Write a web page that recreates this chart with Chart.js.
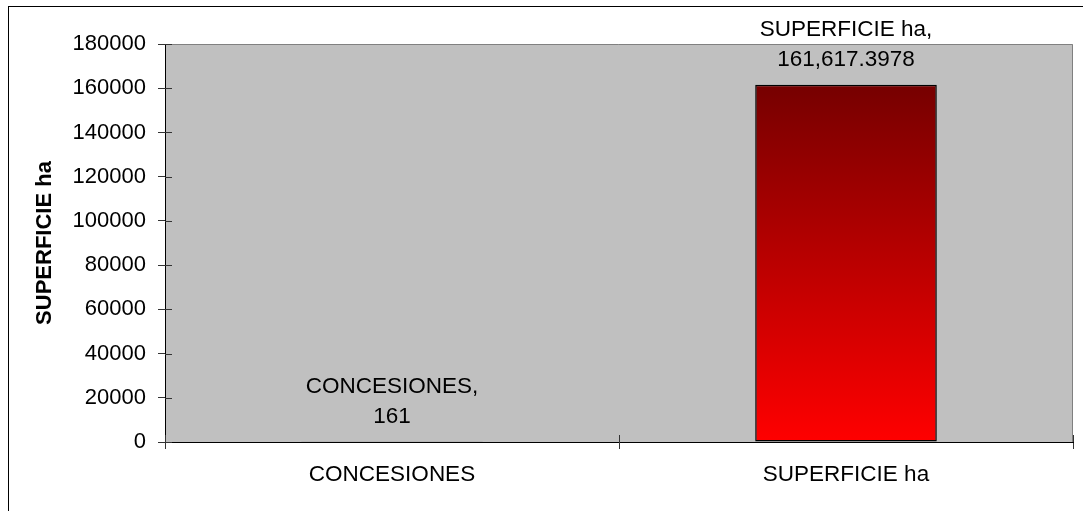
<!DOCTYPE html>
<html>
<head>
<meta charset="utf-8">
<script src="https://cdn.jsdelivr.net/npm/chart.js@4/dist/chart.umd.min.js"></script>
<style>
  html, body { margin: 0; padding: 0; background: #fff; }
  #wrap { width: 1083px; height: 511px; position: relative; }
</style>
</head>
<body>
<div id="wrap"><canvas id="chart"></canvas></div>
<script>
const categories = ['CONCESIONES', 'SUPERFICIE ha']
const values = [161, 161617.3978]
const valueLabels = ['161', '161,617.3978']
const yMin = 0
const yMax = 180000
const yStep = 20000
const yTitle = 'SUPERFICIE ha'

const FONT = '"Liberation Sans", Arial, sans-serif'

// gray plot background, outer frame and top/right plot edge
const framePlugin = {
  id: 'frame',
  beforeDraw(chart) {
    const { ctx, chartArea: a } = chart
    ctx.save()
    ctx.fillStyle = '#fff'
    ctx.fillRect(0, 0, chart.width, chart.height)
    ctx.strokeStyle = '#000'
    ctx.lineWidth = 1
    ctx.strokeRect(8.5, 6.5, chart.width + 20, chart.height + 20)
    ctx.fillStyle = '#c0c0c0'
    ctx.fillRect(a.left, a.top, a.right - a.left, a.bottom - a.top)
    ctx.strokeStyle = '#808080'
    ctx.beginPath()
    ctx.moveTo(a.left, a.top + 0.5)
    ctx.lineTo(a.right - 0.5, a.top + 0.5)
    ctx.lineTo(a.right - 0.5, a.bottom)
    ctx.stroke()
    ctx.restore()
  },
  afterDraw(chart) {
    // tick marks that cross into the plot area
    const { ctx, chartArea: a, scales: { x, y } } = chart
    ctx.save()
    ctx.strokeStyle = '#333'
    ctx.lineWidth = 1
    ctx.beginPath()
    y.ticks.forEach(t => {
      const py = Math.round(y.getPixelForValue(t.value)) + 0.5
      ctx.moveTo(a.left, py)
      ctx.lineTo(a.left + 7, py)
    })
    for (let i = 0; i <= categories.length; i++) {
      const px = Math.round(x.getPixelForValue(i - 0.5)) + 0.5
      ctx.moveTo(px, a.bottom)
      ctx.lineTo(px, a.bottom - 7)
    }
    ctx.stroke()
    ctx.restore()
  },
}

// "category, value" labels above each bar
const valueLabelPlugin = {
  id: 'valueLabels',
  afterDatasetsDraw(chart) {
    const { ctx } = chart
    const meta = chart.getDatasetMeta(0)
    ctx.save()
    ctx.font = `22.5px ${FONT}`
    ctx.fillStyle = '#000'
    ctx.textAlign = 'center'
    ctx.textBaseline = 'alphabetic'
    meta.data.forEach((bar, i) => {
      ctx.fillText(categories[i] + ',', bar.x, bar.y - 49)
      ctx.fillText(valueLabels[i], bar.x, bar.y - 19)
    })
    ctx.restore()
  },
}

new Chart(document.getElementById('chart'), {
  type: 'bar',
  data: {
    labels: categories,
    datasets: [{
      data: values,
      backgroundColor: ctx => {
        const { chart, parsed } = ctx
        if (!chart.chartArea || !parsed) return '#ff0000'
        const yScale = chart.scales.y
        const top = yScale.getPixelForValue(parsed.y)
        const bottom = yScale.getPixelForValue(0)
        const g = chart.ctx.createLinearGradient(0, top, 0, Math.max(bottom, top + 1))
        g.addColorStop(0, '#760000')
        g.addColorStop(1, '#ff0000')
        return g
      },
      borderColor: '#000',
      borderWidth: 1.5,
      borderSkipped: false,
      inflateAmount: 0,
      barPercentage: 0.4,
      categoryPercentage: 1,
    }],
  },
  options: {
    responsive: true,
    maintainAspectRatio: false,
    animation: false,
    layout: { padding: { left: 0, top: 44, right: 10, bottom: 0 } },
    scales: {
      x: {
        afterFit: s => { s.height = 69 },
        grid: { drawOnChartArea: false, drawTicks: true, tickLength: 7, color: '#333' },
        border: { color: '#000', width: 1 },
        ticks: { color: '#000', font: { family: FONT, size: 22.5 }, padding: 12, maxRotation: 0 },
      },
      y: {
        min: yMin,
        max: yMax,
        afterFit: s => { s.width = 165 },
        grid: { drawOnChartArea: false, drawTicks: true, tickLength: 7, color: '#333' },
        border: { color: '#000', width: 1 },
        ticks: {
          stepSize: yStep,
          color: '#000',
          font: { family: FONT, size: 22 },
          padding: 12,
          callback: v => String(v),
        },
        title: {
          display: true,
          text: yTitle,
          color: '#000',
          font: { family: FONT, size: 22, weight: 'bold' },
          padding: { top: 32, bottom: 0 },
        },
      },
    },
    plugins: {
      legend: { display: false },
      tooltip: { enabled: false },
    },
  },
  plugins: [framePlugin, valueLabelPlugin],
})
</script>
</body>
</html>
